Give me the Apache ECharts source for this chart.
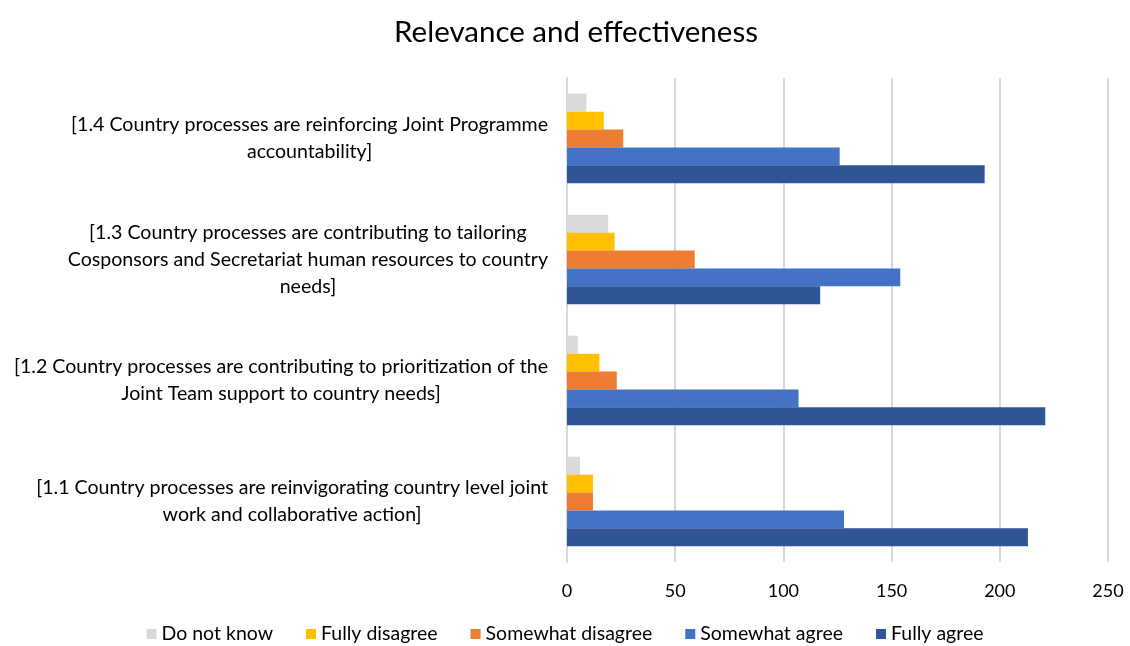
<!DOCTYPE html>
<html><head><meta charset="utf-8">
<script src="https://cdn.jsdelivr.net/npm/echarts@6/dist/echarts.min.js"></script>
<style>html,body{margin:0;padding:0;background:#fff}#c{width:1130px;height:646px}</style>
</head><body><div id="c"></div>
<script>
const categories = [
  "[1.1 Country processes are reinvigorating country level joint\nwork and collaborative action]",
  "[1.2 Country processes are contributing to prioritization of the\nJoint Team support to country needs]",
  "[1.3 Country processes are contributing to tailoring\nCosponsors and Secretariat human resources to country\nneeds]",
  "[1.4 Country processes are reinforcing Joint Programme\naccountability]"
];
const seriesNames = ["Do not know", "Fully disagree", "Somewhat disagree", "Somewhat agree", "Fully agree"];
const doNotKnow = [6, 5, 19, 9];
const fullyDisagree = [12, 15, 22, 17];
const somewhatDisagree = [12, 23, 59, 26];
const somewhatAgree = [128, 107, 154, 126];
const fullyAgree = [213, 221, 117, 193];
const xTicks = { min: 0, max: 250, interval: 50 };

const colors = ["#D9D9D9", "#FFC000", "#ED7D31", "#4472C4", "#2F5597"];
const values = [doNotKnow, fullyDisagree, somewhatDisagree, somewhatAgree, fullyAgree];
const FONT = "Lato";

const series = seriesNames.map((n, i) => ({
  name: n,
  type: 'bar',
  data: values[i],
  itemStyle: { color: colors[i] },
  barGap: '0%',
  barCategoryGap: '26%'
}));

const chart = echarts.init(document.getElementById('c'));
chart.setOption({
  animation: false,
  title: {
    text: 'Relevance and effectiveness',
    left: 571, top: 12, textAlign: 'center',
    textStyle: { fontFamily: FONT, fontSize: 29.5, fontWeight: 'normal', color: '#000' }
  },
  legend: {
    data: seriesNames,
    top: 619, left: 'center',
    itemWidth: 10, itemHeight: 10, itemGap: 33,
    icon: 'rect',
    textStyle: { fontFamily: FONT, fontSize: 19.5, color: '#000' }
  },
  grid: { left: 567, right: 22, top: 78, bottom: 84, containLabel: false },
  xAxis: {
    type: 'value', min: xTicks.min, max: xTicks.max, interval: xTicks.interval,
    axisLine: { show: false }, axisTick: { show: false },
    splitLine: { lineStyle: { color: '#D9D9D9', width: 2 } },
    axisLabel: { fontFamily: FONT, fontSize: 18, color: '#000', margin: 20 }
  },
  yAxis: {
    type: 'category', data: categories,
    axisLine: { lineStyle: { color: '#D9D9D9', width: 2 } },
    axisTick: { show: false },
    axisLabel: {
      margin: 19,
      formatter: v => v.split('\n').map(s => '{a|' + s + '}').join('\n'),
      rich: { a: { align: 'center', fontFamily: FONT, fontSize: 19.6, color: '#000', lineHeight: 27 } }
    }
  },
  series: series
});
</script></body></html>
